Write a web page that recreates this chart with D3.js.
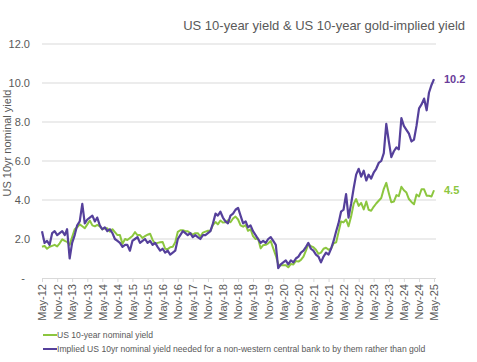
<!DOCTYPE html>
<html><head><meta charset="utf-8">
<script src="https://cdn.jsdelivr.net/npm/d3@7"></script>
<style>
html,body{margin:0;padding:0;background:#fff;}
svg{display:block;font-family:"Liberation Sans",Arial,sans-serif;}
</style></head>
<body><svg id="c" width="477" height="362"></svg>
<script>
// Monthly observations, starting May 2012 and ending May 2025
const startMonth = "2012-05";
const usYield = [
 1.6,1.65,1.5,1.6,1.65,1.7,1.62,1.78,
 1.98,1.9,1.85,1.7,2.1,2.5,2.6,2.75,2.65,2.55,2.75,2.95,
 2.7,2.65,2.72,2.65,2.5,2.55,2.55,2.38,2.5,2.35,2.2,2.2,
 1.75,2.0,1.95,2.05,2.15,2.35,2.2,2.2,2.05,2.15,2.22,2.27,
 1.95,1.75,1.8,1.83,1.85,1.5,1.48,1.58,1.6,1.84,2.37,2.45,
 2.45,2.4,2.4,2.3,2.22,2.3,2.3,2.12,2.33,2.38,2.42,2.42,
 2.72,2.87,2.75,2.95,2.85,2.86,2.96,2.86,3.05,3.15,3.0,2.7,
 2.63,2.72,2.42,2.5,2.15,2.0,2.02,1.52,1.68,1.7,1.78,1.9,
 1.52,1.15,0.7,0.65,0.66,0.66,0.55,0.72,0.69,0.87,0.84,0.93,
 1.1,1.42,1.74,1.63,1.58,1.45,1.24,1.3,1.5,1.55,1.45,1.5,
 1.78,1.83,2.34,2.9,2.85,3.0,2.65,3.15,3.8,4.05,3.7,3.85,
 3.52,3.92,3.5,3.45,3.65,3.82,3.96,4.1,4.57,4.88,4.35,3.88,
 3.92,4.25,4.2,4.68,4.5,4.38,4.05,3.9,3.78,4.28,4.18,4.55,
 4.55,4.22,4.22,4.18,4.5
];
const goldImplied = [
 2.4,1.8,1.9,1.7,2.3,2.4,2.2,2.3,
 2.4,2.2,2.5,1.0,1.8,2.2,2.7,2.9,3.8,2.8,3.0,3.1,
 3.2,2.9,3.1,2.7,2.5,2.6,2.4,2.5,2.3,2.0,1.9,1.8,
 1.6,1.7,1.7,1.4,1.9,2.0,2.1,1.8,1.9,2.0,1.8,1.9,
 1.7,1.8,1.6,1.4,1.5,1.3,1.4,1.2,1.3,1.4,2.0,2.2,
 2.4,2.3,2.2,2.3,2.1,2.2,2.1,2.0,2.2,2.2,2.3,2.4,
 2.8,3.3,3.2,3.4,3.1,2.9,2.8,3.2,3.3,3.5,3.6,3.2,
 2.8,2.9,2.6,2.7,2.4,2.2,2.0,1.8,1.9,1.8,2.0,2.1,
 1.9,1.7,0.5,0.7,0.8,0.9,0.7,0.9,0.8,1.0,1.1,1.3,
 1.4,1.6,1.8,1.5,1.4,1.2,1.1,0.8,1.1,1.3,1.2,1.5,
 1.9,2.4,2.8,3.4,3.5,4.3,3.1,3.8,4.6,5.3,5.6,5.2,
 5.5,5.0,5.3,5.1,5.4,5.6,5.9,6.0,6.4,7.9,7.0,6.2,
 6.5,6.7,6.6,8.2,7.8,7.6,7.4,7.0,7.1,7.8,8.7,8.9,
 9.2,8.6,9.5,9.9,10.2
];
const yTicks = [0,2,4,6,8,10,12];
const seriesNames = ["US 10-year nominal yield",
 "Implied US 10yr nominal yield needed for a non-western central bank to by them rather than gold"];
const title = "US 10-year yield & US 10-year gold-implied yield";
const yTitle = "US 10yr nominal yield";
const endLabels = ["4.5","10.2"];

const parse = d3.timeParse("%Y-%m");
const t0 = parse(startMonth);
const dates = usYield.map((_, i) => d3.timeMonth.offset(t0, i));

const svg = d3.select("#c");
const grey = "#595959";
const green = "#8cc63f", purple = "#55409b";
const x = d3.scaleTime().domain([dates[0], dates[dates.length-1]]).range([42, 434]);
const y = d3.scaleLinear().domain([0, 12]).range([278, 44]);

// gridlines
svg.append("g").selectAll("line").data(yTicks.filter(d => d > 0)).join("line")
  .attr("x1", 42).attr("x2", 436).attr("y1", d => y(d)).attr("y2", d => y(d))
  .attr("stroke", "#d9d9d9").attr("stroke-width", 1);

// y labels
svg.append("g").selectAll("text").data(yTicks).join("text")
  .attr("x", d => d === 0 ? 25 : 30).attr("y", d => y(d) + 4)
  .attr("text-anchor", "end").attr("font-size", 11).attr("fill", grey)
  .text(d => d === 0 ? "-" : d.toFixed(1));

// x axis: every 6 months from May-12
const xTickDates = d3.range(0, dates.length, 6).map(i => dates[i]);
const xAxis = d3.axisBottom(x).tickValues(xTickDates).tickSize(4).tickFormat(d3.timeFormat("%b-%y"));
const gx = svg.append("g").attr("transform", "translate(0,278)").call(xAxis);
gx.select(".domain").attr("stroke", "#d9d9d9").attr("d", "M42,0.5H436");
gx.selectAll(".tick line").attr("stroke", "#d9d9d9");
gx.selectAll(".tick text")
  .attr("transform", "rotate(-90)").attr("text-anchor", "end")
  .attr("x", -6).attr("y", 0).attr("dy", "0.35em")
  .attr("font-size", 11).attr("fill", grey).attr("font-family", "Liberation Sans, Arial, sans-serif");

// lines
const line = d3.line().x((d, i) => x(dates[i])).y(d => y(d));
svg.append("path").datum(usYield).attr("d", line)
  .attr("fill", "none").attr("stroke", green).attr("stroke-width", 2).attr("stroke-linejoin", "round");
svg.append("path").datum(goldImplied).attr("d", line)
  .attr("fill", "none").attr("stroke", purple).attr("stroke-width", 2.2).attr("stroke-linejoin", "round");

// end labels
svg.append("text").attr("x", 444).attr("y", y(usYield[usYield.length-1]) + 4)
  .attr("font-size", 11).attr("font-weight", "bold").attr("fill", "#8dc63f").text(endLabels[0]);
svg.append("text").attr("x", 444).attr("y", y(goldImplied[goldImplied.length-1]) + 4)
  .attr("font-size", 11).attr("font-weight", "bold").attr("fill", "#6a3d9a").text(endLabels[1]);

// title
svg.append("text").attr("x", 465).attr("y", 30).attr("text-anchor", "end")
  .attr("font-size", 13).attr("fill", grey).text(title);

// y title
svg.append("text").attr("transform", "translate(11,143) rotate(-90)")
  .attr("text-anchor", "middle").attr("font-size", 11).attr("fill", grey).text(yTitle);

// legend
const leg = svg.append("g");
[green, purple].forEach((c, i) => {
  const ly = 335 + i * 14;
  leg.append("line").attr("x1", 43).attr("x2", 57).attr("y1", ly).attr("y2", ly)
    .attr("stroke", c).attr("stroke-width", 2);
  leg.append("text").attr("x", 57).attr("y", ly + 3.2).attr("font-size", 8.6)
    .attr("fill", grey).text(seriesNames[i]);
});
</script></body></html>
